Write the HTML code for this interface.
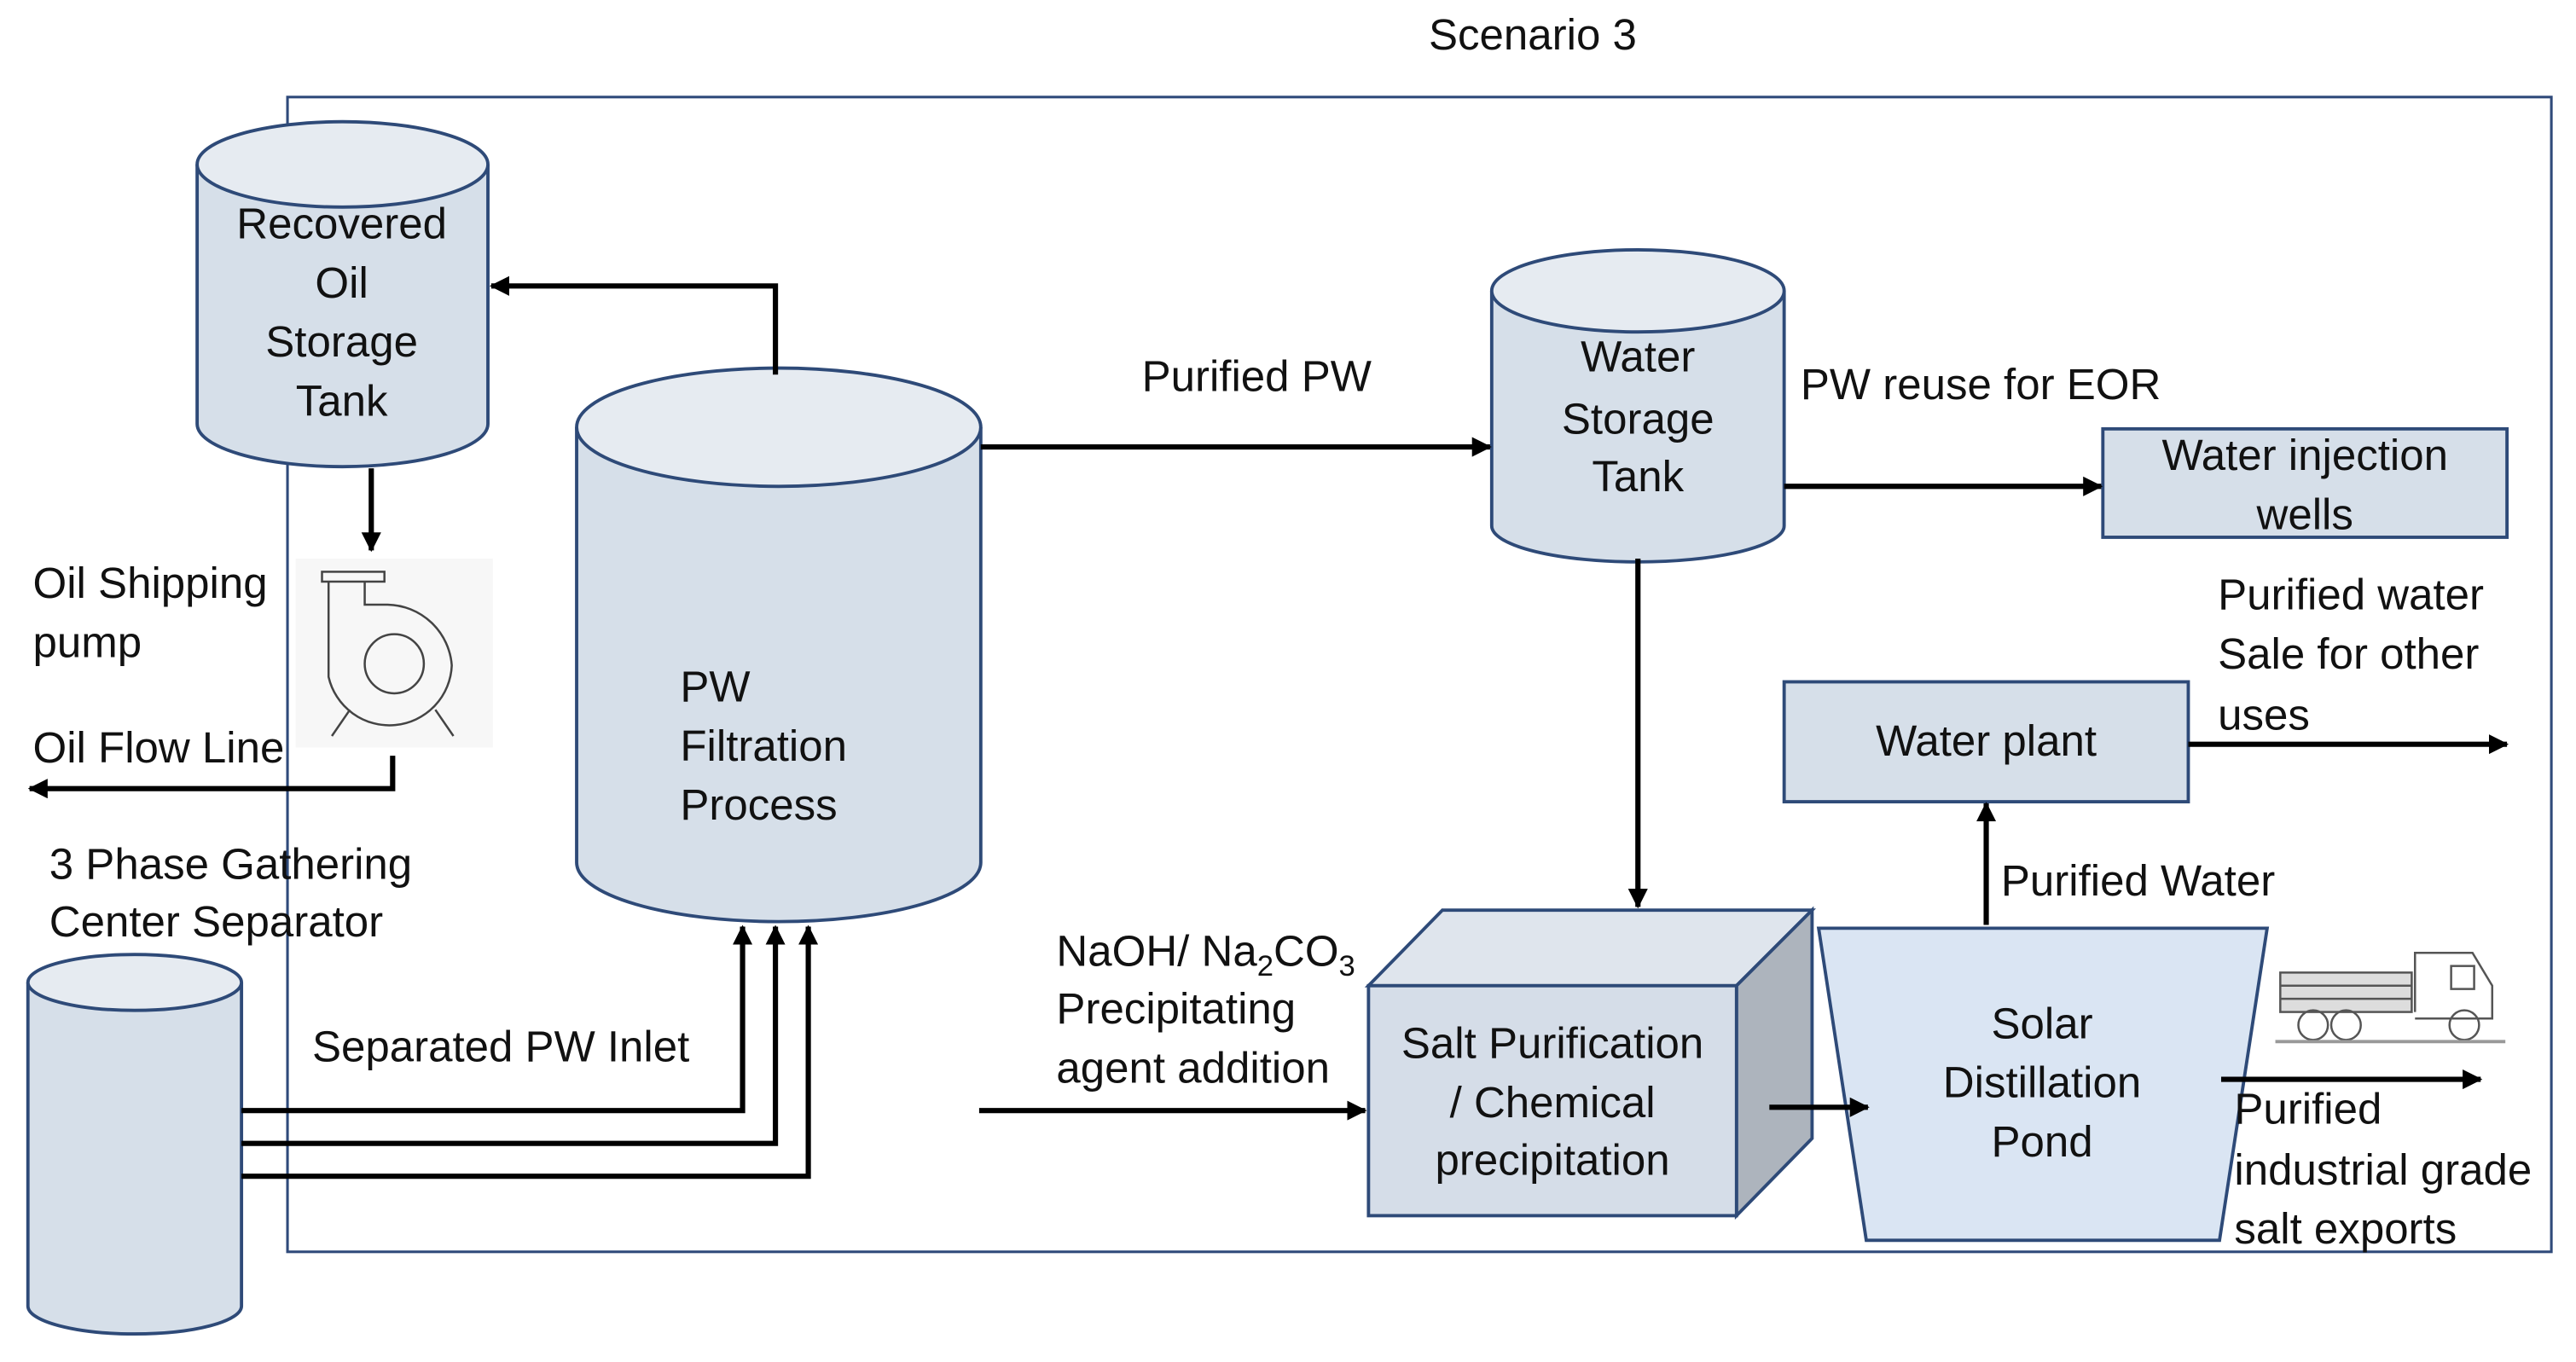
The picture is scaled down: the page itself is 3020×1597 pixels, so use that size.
<!DOCTYPE html>
<html><head><meta charset="utf-8"><style>
html,body{margin:0;padding:0;background:#fff}
svg{display:block}
text{font-family:"Liberation Sans",sans-serif;font-size:26.5px;fill:#111}
</style></head><body>
<svg width="3020" height="1597" viewBox="0 0 1568 829" xmlns="http://www.w3.org/2000/svg">
<defs>
<marker id="a" markerWidth="14" markerHeight="14" refX="11" refY="6" orient="auto" markerUnits="userSpaceOnUse">
<path d="M0,0 L12,6 L0,12 Z" fill="#000"/></marker>
</defs>
<text x="933" y="30" text-anchor="middle">Scenario 3</text>
<rect x="175" y="59" width="1378" height="703" fill="none" stroke="#2f4a7a" stroke-width="1.6"/>

<g stroke="#2e4a78" stroke-width="2">
<path d="M120,100 V258 A88.5,26 0 0 0 297,258 V100" fill="#d6dfe9"/>
<ellipse cx="208.5" cy="100" rx="88.5" ry="26" fill="#e6ebf1"/>
<path d="M351,260 V525 A123,36 0 0 0 597,525 V260" fill="#d6dfe9"/>
<ellipse cx="474" cy="260" rx="123" ry="36" fill="#e6ebf1"/>
<path d="M17,598 V795 A65,17 0 0 0 147,795 V598" fill="#d6dfe9"/>
<ellipse cx="82" cy="598" rx="65" ry="17" fill="#e6ebf1"/>
<path d="M908,177 V320 A89,22 0 0 0 1086,320 V177" fill="#d6dfe9"/>
<ellipse cx="997" cy="177" rx="89" ry="25" fill="#e6ebf1"/>
<rect x="1280" y="261" width="246" height="66" fill="#d6dfe9"/>
<rect x="1086" y="415" width="246" height="73" fill="#d6dfe9"/>
<polygon points="833,600 878,554 1103,554 1057,600" fill="#dfe5ed"/>
<polygon points="1057,600 1103,554 1103,693 1057,740" fill="#adb4bd"/>
<rect x="833" y="600" width="224" height="140" fill="#d5dde8"/>
<polygon points="1107,565 1380,565 1351,755 1136,755" fill="#dae5f3"/>
</g>

<rect x="180" y="340" width="120" height="115" fill="#f7f7f7"/>
<g stroke="#444" stroke-width="1.3" fill="none">
<rect x="196" y="348" width="38" height="6"/>
<path d="M200,354 V412 A38,38 0 0 0 275,405 A40,40 0 0 0 236,368 H222 V354"/>
<circle cx="240" cy="404" r="18"/>
<path d="M213,432 L202,448 M265,432 L276,448"/>
</g>

<g stroke="#555" stroke-width="1.3" fill="none">
<rect x="1388" y="592" width="80" height="24" fill="#ddd"/>
<path d="M1388,600 H1468 M1388,608 H1468"/>
<path d="M1470,616 V580 H1505 L1517,600 V620 H1470"/>
<rect x="1492" y="588" width="14" height="14"/>
<circle cx="1408" cy="624" r="9"/><circle cx="1428" cy="624" r="9"/><circle cx="1500" cy="624" r="9"/>
<path d="M1385,634 H1525" stroke="#999" stroke-width="2"/>
</g>

<g stroke="#000" stroke-width="3.2" fill="none" marker-end="url(#a)">
<path d="M472,228 V174 H299"/>
<path d="M226,285 V335"/>
<path d="M239,460 V480 H18"/>
<path d="M147,676 H452 V564"/>
<path d="M147,696 H472 V564"/>
<path d="M147,716 H492 V564"/>
<path d="M597,272 H907"/>
<path d="M1086,296 H1279"/>
<path d="M997,340 V552"/>
<path d="M1332,453 H1526"/>
<path d="M1209,563 V489"/>
<path d="M596,676 H831"/>
<path d="M1077,674 H1137"/>
<path d="M1352,657 H1510"/>
</g>

<g text-anchor="middle">
<text x="208" y="145">Recovered</text>
<text x="208" y="181">Oil</text>
<text x="208" y="217">Storage</text>
<text x="208" y="253">Tank</text>
<text x="997" y="226">Water</text>
<text x="997" y="264">Storage</text>
<text x="997" y="299">Tank</text>
<text x="1403" y="286">Water injection</text>
<text x="1403" y="322">wells</text>
<text x="1209" y="460">Water plant</text>
<text x="945" y="644">Salt Purification</text>
<text x="945" y="680">/ Chemical</text>
<text x="945" y="715">precipitation</text>
<text x="1243" y="632">Solar</text>
<text x="1243" y="668">Distillation</text>
<text x="1243" y="704">Pond</text>
</g>
<text x="414" y="427">PW</text>
<text x="414" y="463">Filtration</text>
<text x="414" y="499">Process</text>
<text x="20" y="364">Oil Shipping</text>
<text x="20" y="400">pump</text>
<text x="20" y="464">Oil Flow Line</text>
<text x="30" y="535">3 Phase Gathering</text>
<text x="30" y="570">Center Separator</text>
<text x="190" y="646">Separated PW Inlet</text>
<text x="695" y="238">Purified PW</text>
<text x="1096" y="243">PW reuse for EOR</text>
<text x="1350" y="371">Purified water</text>
<text x="1350" y="407">Sale for other</text>
<text x="1350" y="444">uses</text>
<text x="1218" y="545">Purified Water</text>
<text x="643" y="588">NaOH/ Na<tspan font-size="18" dy="6">2</tspan><tspan dy="-6">CO</tspan><tspan font-size="18" dy="6">3</tspan></text>
<text x="643" y="623">Precipitating</text>
<text x="643" y="659">agent addition</text>
<text x="1360" y="684">Purified</text>
<text x="1360" y="721">industrial grade</text>
<text x="1360" y="757">salt exports</text>
</svg>
</body></html>
